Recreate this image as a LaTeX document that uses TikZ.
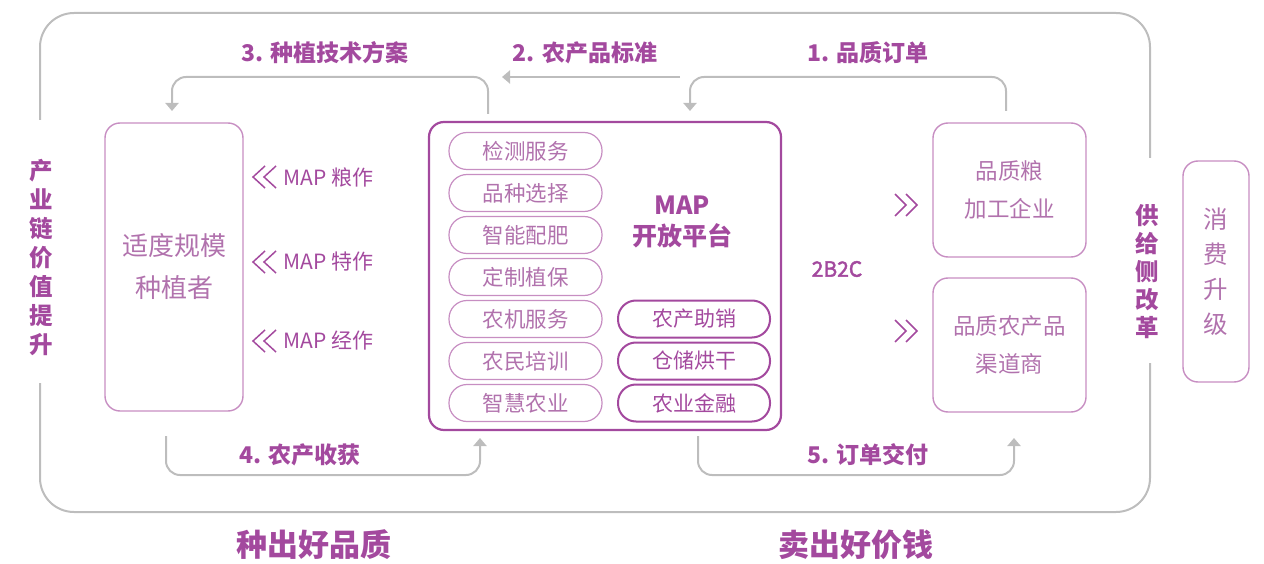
\documentclass[tikz,border=0pt]{standalone}
\usepackage{fontspec}
\setmainfont{Noto Sans CJK SC}
\newfontfamily\medfont[FakeBold=2]{Noto Sans CJK SC}
\usetikzlibrary{arrows.meta}
\definecolor{mag}{HTML}{A3499E}
\definecolor{lmag}{HTML}{B172AD}
\definecolor{lline}{HTML}{C78EC2}
\definecolor{gline}{HTML}{BDBDBD}
\newcommand{\myfs}[2]{\fontsize{#1}{#2}\selectfont}
\begin{document}
\begin{tikzpicture}[x=1pt,y=-1pt,
  loopline/.style={draw=gline,line width=2pt,rounded corners=34pt},
  flow/.style={draw=gline,line width=2pt,rounded corners=14pt,-{Triangle[width=13pt,length=8pt]}},
  flowplain/.style={draw=gline,line width=2pt,-{Triangle[width=13pt,length=8pt]}},
  bigbox/.style={draw=lline,line width=1.4pt,rounded corners=15pt,align=center,text=lmag},
  pill/.style={draw=lline,line width=1.2pt,rounded corners=18pt,minimum width=153pt,minimum height=37pt,inner sep=0pt,text=lmag,font=\myfs{21.5}{21}},
  darkpill/.style={draw=mag,line width=2pt,rounded corners=18pt,minimum width=152pt,minimum height=37pt,inner sep=0pt,text=mag,font=\myfs{21}{21}},
  flowlabel/.style={text=mag,font=\bfseries\myfs{23}{23},inner sep=0pt},
  maplabel/.style={text=mag,font=\myfs{21}{21},inner sep=0pt,anchor=west},
  sidetext/.style={text=mag,font=\bfseries\myfs{23.5}{29},align=center,inner sep=0pt},
  chev/.style={draw=mag,line width=1.5pt},
  caption/.style={text=mag,font=\bfseries\myfs{31}{31},inner sep=0pt}
]
\useasboundingbox (0,0) rectangle (1264,564);

% outer loop
\draw[loopline] (40,120) -- (40,13) -- (1150,13) -- (1150,158);
\draw[loopline] (1150,363) -- (1150,512) -- (40,512) -- (40,383);

% side texts
\node[sidetext] (chain) at (41,258) {产\\业\\链\\价\\值\\提\\升};
\node[sidetext,font=\bfseries\myfs{23.5}{28}] (supply) at (1147,272) {供\\给\\侧\\改\\革};

% boxes
\node[bigbox,minimum width=138pt,minimum height=288pt,font=\myfs{26}{42}] (grower) at (174,267) {适度规模\\种植者};
\node[draw=mag,line width=2.2pt,rounded corners=15pt,minimum width=352pt,minimum height=308pt] (map) at (605,276) {};
\node[bigbox,minimum width=153pt,minimum height=134pt,font=\myfs{22.5}{38}] (proc) at (1009.5,190) {品质粮\\加工企业};
\node[bigbox,minimum width=153pt,minimum height=134pt,font=\myfs{22.5}{38}] (dist) at (1009.5,345) {品质农产品\\渠道商};
\node[bigbox,minimum width=66pt,minimum height=221pt,font=\myfs{24.5}{35}] (consume) at (1216,271.5) {消\\费\\升\\级};

% platform title
\node[text=mag,font=\bfseries\myfs{25}{31},align=center,inner sep=0pt] (maptitle) at (682,222) {MAP\\开放平台};

% pills
\node[pill] (p1) at (525.5,151) {检测服务};
\node[pill] (p2) at (525.5,193) {品种选择};
\node[pill] (p3) at (525.5,235) {智能配肥};
\node[pill] (p4) at (525.5,277) {定制植保};
\node[pill] (p5) at (525.5,319) {农机服务};
\node[pill] (p6) at (525.5,361) {农民培训};
\node[pill] (p7) at (525.5,403) {智慧农业};
\node[darkpill] (q1) at (694,319) {农产助销};
\node[darkpill] (q2) at (694,361) {仓储烘干};
\node[darkpill] (q3) at (694,403) {农业金融};

% MAP labels with chevrons
\node[maplabel] (m1) at (283,177) {MAP 粮作};
\node[maplabel] (m2) at (283,262) {MAP 特作};
\node[maplabel] (m3) at (283,341) {MAP 经作};
\foreach \c in {177,262,341}{
  \draw[chev] (265,\c-11) -- (253,\c) -- (265,\c+11);
  \draw[chev] (276,\c-11) -- (264,\c) -- (276,\c+11);
}
\foreach \c in {205,331}{
  \draw[chev] (895,\c-11) -- (906,\c) -- (895,\c+11);
  \draw[chev] (906,\c-11) -- (917,\c) -- (906,\c+11);
}
\node[text=mag,font=\medfont\myfs{21}{21},inner sep=0pt] (b2c) at (837,269) {2B2C};

% flow coordinates
\coordinate (a3s) at (488,114);
\coordinate (a3e) at (172,111);
\coordinate (a2s) at (680,77);
\coordinate (a2e) at (502,77);
\coordinate (a1s) at (1006,111);
\coordinate (a1e) at (690,111);
\coordinate (a4s) at (166,436);
\coordinate (a4e) at (480,438);
\coordinate (a5s) at (698,436);
\coordinate (a5e) at (1014,438);

\draw[flow] (a3s) -- (488,77) -- (172,77) -- (a3e);
\draw[flowplain] (a2s) -- (a2e);
\draw[flow] (a1s) -- (1006,77) -- (690,77) -- (a1e);
\draw[flow] (a4s) -- (166,475) -- (480,475) -- (a4e);
\draw[flow] (a5s) -- (698,475) -- (1014,475) -- (a5e);

\node[flowlabel] (l3) at (325,53) {3. 种植技术方案};
\node[flowlabel] (l2) at (585,53) {2. 农产品标准};
\node[flowlabel] (l1) at (868,53) {1. 品质订单};
\node[flowlabel] (l4) at (300,455) {4. 农产收获};
\node[flowlabel] (l5) at (868,455) {5. 订单交付};

% captions
\node[caption] (c1) at (314,545) {种出好品质};
\node[caption] (c2) at (856,545) {卖出好价钱};
\end{tikzpicture}
\end{document}
